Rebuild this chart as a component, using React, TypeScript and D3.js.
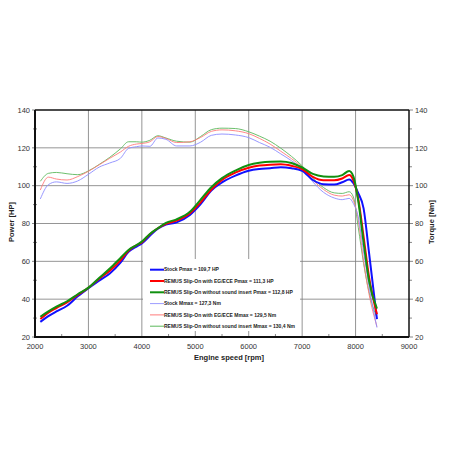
import React, { useRef, useEffect } from 'react';
import * as d3 from 'd3';

// engine speed grid shared by all curves
const rpm = [
  2100, 2250, 2400, 2600, 2800, 3000, 3200, 3400, 3600, 3750, 3900, 4000, 4150, 4300,
  4450, 4650, 4900, 5100, 5300, 5500, 5750, 6000, 6200, 6400, 6600, 6800, 7000, 7200,
  7400, 7600, 7750, 7880, 7960, 8050, 8150, 8250, 8400,
];

const stockPower = [
  28.0, 31.0, 33.5, 36.5, 41.5, 45.8, 49.8, 53.6, 59.3, 65.0, 67.8, 69.5, 73.5, 77.3,
  79.4, 80.6, 84.5, 90.2, 97.4, 101.7, 105.3, 107.9, 108.8, 109.2, 109.7, 109.2, 107.8, 103.0,
  100.8, 100.6, 101.8, 103.3, 101.3, 96.0, 88.0, 65.0, 29.5,
];
const egecePower = [
  29.5, 32.8, 35.3, 38.3, 42.3, 46.0, 50.8, 55.0, 60.5, 65.6, 68.5, 70.0, 74.3, 77.5,
  79.8, 81.5, 85.4, 91.2, 98.0, 103.0, 106.9, 109.5, 110.6, 111.1, 111.3, 110.5, 108.8, 104.6,
  102.8, 102.8, 103.8, 105.6, 102.8, 93.0, 73.0, 52.0, 32.0,
];
const noInsertPower = [
  30.7, 33.5, 36.0, 38.9, 42.6, 46.1, 51.2, 56.2, 61.8, 66.0, 68.6, 70.4, 74.5, 77.5,
  80.3, 82.2, 86.2, 92.6, 99.2, 104.0, 108.0, 110.9, 112.1, 112.7, 112.8, 112.0, 109.6, 106.2,
  104.9, 104.7, 105.6, 107.8, 104.8, 92.0, 70.0, 50.0, 35.0,
];

const stockTorque = [
  93.0, 100.5, 102.0, 101.2, 102.5, 106.0, 109.8, 112.0, 114.5, 119.7, 120.6, 121.0, 120.8, 125.2,
  124.5, 121.0, 121.0, 123.0, 126.6, 127.3, 126.8, 125.4, 122.8, 120.3, 116.8, 113.2, 109.0, 102.0,
  96.5, 93.5, 92.6, 93.3, 90.5, 83.5, 65.0, 47.0, 25.0,
];
const egeceTorque = [
  97.7, 104.5, 103.5, 103.0, 104.8, 107.6, 111.0, 114.5, 117.8, 120.8, 122.0, 122.3, 123.2, 126.0,
  125.0, 122.8, 123.2, 125.5, 128.7, 129.5, 129.0, 127.5, 125.0, 122.0, 118.2, 114.3, 109.8, 103.0,
  98.0, 95.0, 94.5, 95.2, 92.2, 82.0, 60.0, 43.0, 25.5,
];
const noInsertTorque = [
  102.3, 106.5, 107.0, 106.3, 105.8, 107.8, 111.2, 115.0, 119.5, 123.2, 123.2, 123.0, 124.0, 126.4,
  125.2, 123.5, 123.0, 126.0, 129.6, 130.4, 130.2, 128.5, 126.2, 123.5, 119.8, 115.5, 110.5, 104.0,
  99.0, 96.2, 95.9, 96.8, 94.0, 78.0, 59.0, 44.0, 30.0,
];

const valueTicks = [20, 40, 60, 80, 100, 120, 140];
const rpmTicks = [2000, 3000, 4000, 5000, 6000, 7000, 8000, 9000];

const legendLabels = [
  'Stock Pmax = 109,7 HP',
  'REMUS Slip-On with EG/ECE Pmax = 111,3 HP',
  'REMUS Slip-On without sound insert Pmax = 112,8 HP',
  'Stock Mmax = 127,3 Nm',
  'REMUS Slip-On with EG/ECE Mmax = 129,5 Nm',
  'REMUS Slip-On without sound insert Mmax = 130,4 Nm',
];

const App: React.FC = () => {
  const ref = useRef<SVGSVGElement | null>(null);

  useEffect(() => {
    if (!ref.current) return;
    const svg = d3.select(ref.current);
    svg.selectAll('*').remove();

    const font = '"Liberation Sans", Arial, sans-serif';
    const x = d3.scaleLinear().domain([2000, 9000]).range([35, 409]);
    const y = d3.scaleLinear().domain([20, 140]).range([337, 110]);

    // grid
    const grid = svg.append('g').attr('stroke', '#7a7a7a').attr('stroke-width', 0.8);
    rpmTicks.slice(1, -1).forEach(t => {
      grid.append('line').attr('x1', x(t)).attr('x2', x(t)).attr('y1', y(20)).attr('y2', y(140));
    });
    valueTicks.slice(1, -1).forEach(t => {
      grid.append('line').attr('x1', x(2000)).attr('x2', x(9000)).attr('y1', y(t)).attr('y2', y(t));
    });

    // minor ticks
    const minor = svg.append('g').attr('stroke', '#555').attr('stroke-width', 0.7);
    d3.range(30, 140, 20).forEach(t => {
      minor.append('line').attr('x1', x(2000) - 2).attr('x2', x(2000) + 2).attr('y1', y(t)).attr('y2', y(t));
      minor.append('line').attr('x1', x(9000)).attr('x2', x(9000) + 3).attr('y1', y(t)).attr('y2', y(t));
    });
    d3.range(2500, 9000, 1000).forEach(t => {
      minor.append('line').attr('x1', x(t)).attr('x2', x(t)).attr('y1', y(20)).attr('y2', y(20) - 3);
    });
    valueTicks.forEach(t => {
      minor.append('line').attr('x1', x(2000) - 3).attr('x2', x(2000)).attr('y1', y(t)).attr('y2', y(t));
      minor.append('line').attr('x1', x(9000)).attr('x2', x(9000) + 4).attr('y1', y(t)).attr('y2', y(t));
    });

    // curves
    const series = [
      { values: noInsertTorque, color: '#5cb85c', width: 0.9 },
      { values: egeceTorque, color: '#ff7a7a', width: 0.9 },
      { values: stockTorque, color: '#8c8cff', width: 0.9 },
      { values: stockPower, color: '#1010ff', width: 2 },
      { values: egecePower, color: '#ff0000', width: 2 },
      { values: noInsertPower, color: '#109010', width: 2 },
    ];
    const line = d3.line<number>()
      .x((_, i) => x(rpm[i]))
      .y(d => y(d))
      .curve(d3.curveMonotoneX);
    series.forEach(s => {
      svg.append('path')
        .datum(s.values)
        .attr('fill', 'none')
        .attr('stroke', s.color)
        .attr('stroke-width', s.width)
        .attr('stroke-linejoin', 'round')
        .attr('d', line);
    });

    // frame
    svg.append('line').attr('x1', x(2000)).attr('x2', x(9000)).attr('y1', y(140)).attr('y2', y(140))
      .attr('stroke', '#111').attr('stroke-width', 1.3);
    svg.append('line').attr('x1', x(9000)).attr('x2', x(9000)).attr('y1', y(140)).attr('y2', y(20))
      .attr('stroke', '#111').attr('stroke-width', 1.5);
    svg.append('line').attr('x1', x(2000)).attr('x2', x(2000)).attr('y1', y(140)).attr('y2', y(20) + 1)
      .attr('stroke', '#111').attr('stroke-width', 2);
    svg.append('line').attr('x1', x(2000) - 1).attr('x2', x(9000)).attr('y1', y(20)).attr('y2', y(20))
      .attr('stroke', '#111').attr('stroke-width', 2);

    // tick labels
    const labels = svg.append('g').attr('font-family', font).attr('font-size', 7.5).attr('fill', '#333');
    valueTicks.forEach(t => {
      labels.append('text').attr('x', 30).attr('y', y(t) + 2.7).attr('text-anchor', 'end').text(t);
      labels.append('text').attr('x', 415).attr('y', y(t) + 2.7).text(t);
    });
    rpmTicks.forEach(t => {
      labels.append('text').attr('x', x(t)).attr('y', 348.5).attr('text-anchor', 'middle').text(t);
    });

    // axis titles
    const titles = svg.append('g').attr('font-family', font).attr('font-size', 7.5)
      .attr('font-weight', 'bold').attr('fill', '#222');
    titles.append('text').attr('text-anchor', 'middle')
      .attr('transform', 'translate(14,222) rotate(-90)').text('Power [HP]');
    titles.append('text').attr('text-anchor', 'middle')
      .attr('transform', 'translate(434,222) rotate(-90)').text('Torque [Nm]');
    titles.append('text').attr('text-anchor', 'middle').attr('x', 229).attr('y', 360)
      .text('Engine speed [rpm]');

    // legend
    const legend = svg.append('g');
    legend.append('rect').attr('x', 143).attr('y', 259).attr('width', 157).attr('height', 72).attr('fill', '#fff');
    const legendStyles = [
      { color: '#1010ff', width: 2 },
      { color: '#ff0000', width: 2 },
      { color: '#109010', width: 2 },
      { color: '#9c9cff', width: 1 },
      { color: '#ff7a7a', width: 1 },
      { color: '#5cb85c', width: 1 },
    ];
    legendLabels.forEach((label, i) => {
      const ly = 269.7 + i * 11.3;
      legend.append('line').attr('x1', 150).attr('x2', 164).attr('y1', ly).attr('y2', ly)
        .attr('stroke', legendStyles[i].color).attr('stroke-width', legendStyles[i].width);
      legend.append('text').attr('x', 164).attr('y', ly + 1.7)
        .attr('font-family', font).attr('font-size', 5).attr('font-weight', 'bold').attr('fill', '#222')
        .text(label);
    });
  }, []);

  return (
    <svg
      ref={ref}
      width={452}
      height={452}
      style={{ position: 'absolute', left: 0, top: 0, background: '#fff' }}
    />
  );
};

export default App;
